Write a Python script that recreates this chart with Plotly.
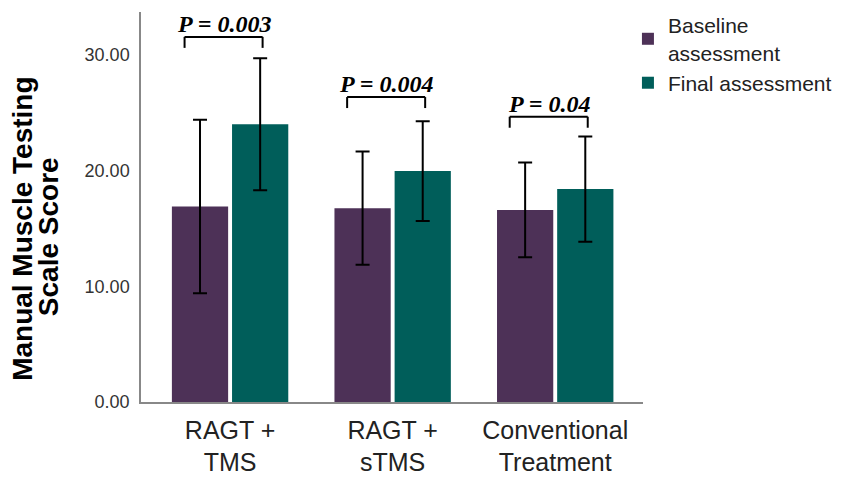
import plotly.graph_objects as go

# values
groups = ["RAGT +<br>TMS", "RAGT +<br>sTMS", "Conventional<br>Treatment"]
baseline_mean = [16.9, 16.75, 16.6]
baseline_err = [7.5, 4.9, 4.1]
final_mean = [24.0, 19.95, 18.4]
final_err = [5.7, 4.3, 4.55]

p_labels = ["P = 0.003", "P = 0.004", "P = 0.04"]
bracket_y = [31.55, 26.35, 24.65]

PURPLE = "#4d3157"
TEAL = "#005e5a"
SANS = "Liberation Sans, Arial, sans-serif"

fig = go.Figure()
fig.add_trace(go.Bar(
    x=groups, y=baseline_mean, name="Baseline<br>assessment",
    marker=dict(color=PURPLE, line=dict(width=0)),
    error_y=dict(type="data", array=baseline_err, color="black", thickness=2, width=7),
))
fig.add_trace(go.Bar(
    x=groups, y=final_mean, name="Final assessment",
    marker=dict(color=TEAL, line=dict(width=0)),
    error_y=dict(type="data", array=final_err, color="black", thickness=2, width=7),
))

# significance brackets
for i, (label, yb) in enumerate(zip(p_labels, bracket_y)):
    x0, x1 = i - 0.28, i + 0.2
    line = dict(color="black", width=2)
    fig.add_shape(type="line", xref="x", yref="y", x0=x0, x1=x1, y0=yb, y1=yb, line=line)
    fig.add_shape(type="line", xref="x", yref="y", x0=x0, x1=x0, y0=yb, y1=yb - 0.95, line=line)
    fig.add_shape(type="line", xref="x", yref="y", x0=x1, x1=x1, y0=yb, y1=yb - 0.95, line=line)
    fig.add_annotation(
        x=(x0 + x1) / 2, y=yb, xref="x", yref="y", yanchor="bottom", yshift=-2,
        text=f"<b><i>{label}</i></b>", showarrow=False,
        font=dict(family="Liberation Serif, Times New Roman, serif", size=24, color="black"),
    )

# y axis title, two tight lines
title_font = dict(family=SANS, size=28, color="black")
fig.add_annotation(x=-0.235, y=0.444, xref="paper", yref="paper", textangle=-90,
                   xanchor="center", yanchor="middle", showarrow=False,
                   text="<b>Manual Muscle Testing</b>", font=title_font)
fig.add_annotation(x=-0.185, y=0.423, xref="paper", yref="paper", textangle=-90,
                   xanchor="center", yanchor="middle", showarrow=False,
                   text="<b>Scale Score</b>", font=title_font)

fig.update_layout(
    width=850, height=485,
    margin=dict(l=133, r=215, t=4, b=91, autoexpand=False),
    paper_bgcolor="white", plot_bgcolor="white",
    barmode="group", bargap=0.26, bargroupgap=0.065,
    showlegend=True,
    legend=dict(
        x=0.97, y=1.018, xanchor="left", yanchor="top",
        font=dict(family=SANS, size=21, color="#222222"),
        tracegroupgap=0, itemwidth=30,
    ),
)
fig.update_xaxes(
    range=[-0.548, 2.54], showline=True, linecolor="#888888", linewidth=1.5,
    ticks="", showgrid=False, ticklabelstandoff=5,
    tickfont=dict(family=SANS, size=25, color="#222222"),
)
fig.update_yaxes(
    range=[0, 33.7], showline=True, linecolor="#888888", linewidth=1.5,
    ticks="", showgrid=False, zeroline=False, tickvals=[0, 10, 20, 30],
    tickformat=".2f", ticklabelstandoff=6,
    tickfont=dict(family=SANS, size=18, color="#333333"),
)

fig.write_html("out.html")
